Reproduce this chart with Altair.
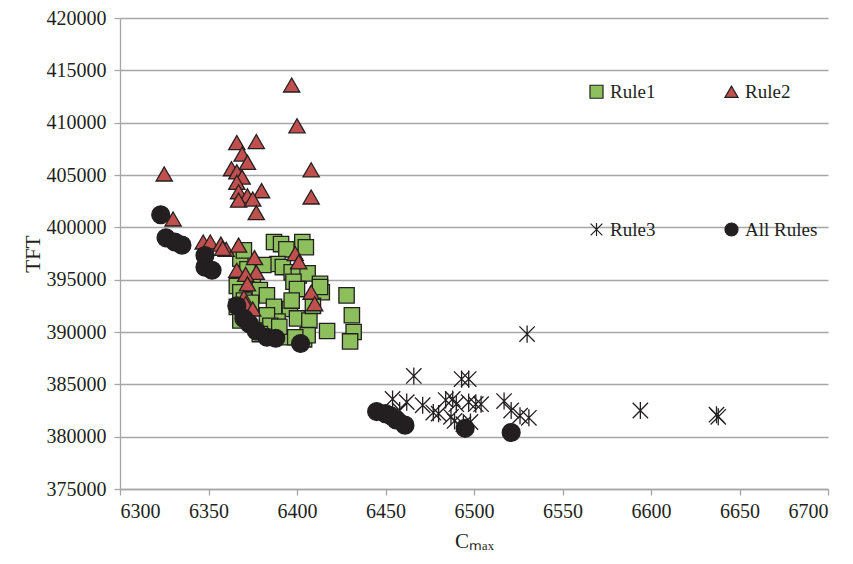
import altair as alt
import pandas as pd

# Rule1 (green squares)
rule1_x = [6387, 6391, 6394, 6403, 6405, 6368, 6370, 6389, 6392, 6381, 6397, 6401,
           6406, 6398, 6400, 6413, 6414, 6413, 6428, 6366, 6368, 6375, 6379, 6383,
           6370, 6374, 6366, 6387, 6396, 6389, 6400, 6407, 6368, 6383, 6385, 6417,
           6431, 6432, 6430, 6379, 6394, 6404, 6406, 6399, 6390, 6397, 6372, 6409]
rule1_y = [398600, 398400, 397900, 398600, 398100, 397000, 397800, 396500, 396200,
           396400, 395700, 395400, 395600, 394800, 394100, 394600, 393800, 394300,
           393500, 394400, 393800, 394600, 394000, 393500, 393000, 392800, 392400,
           392400, 392200, 391000, 391300, 391100, 391100, 391600, 390600, 390100,
           391600, 390000, 389100, 389800, 389500, 389300, 389700, 389500, 390500,
           393000, 396000, 392500]

# Rule2 (red triangles)
rule2_x = [6397, 6400, 6366, 6377, 6369, 6372, 6363, 6366, 6369, 6325, 6408, 6408,
           6366, 6367, 6372, 6380, 6367, 6375, 6377, 6330, 6347, 6351, 6357, 6360,
           6367, 6376, 6399, 6401, 6366, 6377, 6371, 6372, 6370, 6371, 6375, 6408,
           6410, 6358]
rule2_y = [413600, 409700, 408100, 408200, 407000, 406200, 405600, 405300, 404800,
           405100, 405500, 402900, 404300, 403400, 403000, 403500, 402600, 402700,
           401400, 400800, 398600, 398600, 398400, 397900, 398300, 397100, 397500,
           396700, 395900, 395700, 395500, 394600, 393300, 392700, 392200, 393800,
           392700, 398000]

# Rule3 (stars)
rule3_x = [6466, 6493, 6497, 6454, 6462, 6471, 6477, 6480, 6484, 6488, 6490, 6487,
           6489, 6497, 6501, 6504, 6498, 6517, 6521, 6526, 6531, 6458, 6530, 6594,
           6637, 6638, 6494]
rule3_y = [385800, 385500, 385500, 383600, 383300, 383000, 382300, 382200, 383500,
           383600, 383100, 381900, 381500, 383300, 383100, 383100, 381400, 383400,
           382500, 382000, 381800, 382500, 389800, 382500, 382100, 381900, 381200]

# All Rules (black circles)
all_x = [6323, 6326, 6331, 6335, 6348, 6348, 6352, 6366, 6370, 6373, 6377, 6383,
         6388, 6402, 6445, 6450, 6453, 6456, 6461, 6495, 6521]
all_y = [401200, 399000, 398600, 398300, 397300, 396200, 395900, 392500, 391300,
         390800, 390100, 389500, 389400, 388900, 382400, 382200, 382000, 381600,
         381100, 380800, 380400]

series = ["Rule1", "Rule2", "Rule3", "All Rules"]
legend_order = ["Rule1", "Rule3", "Rule2", "All Rules"]  # column-major 2x2 layout
xs = [rule1_x, rule2_x, rule3_x, all_x]
ys = [rule1_y, rule2_y, rule3_y, all_y]

rows = []
for name, xv, yv in zip(series, xs, ys):
    for a, b in zip(xv, yv):
        rows.append({"Cmax": a, "TFT": b, "Series": name, "SizeKey": name + " "})
df = pd.DataFrame(rows)

STAR = "M-0.9,-0.9L0.9,0.9M-0.9,0.9L0.9,-0.9M0,-1L0,1"
FONT = "Liberation Serif"
INK = "#231f20"
GRID = "#a6a6a6"

leg = alt.Legend(title=None, orient="none", legendX=467, legendY=64,
                 columns=2, columnPadding=66, rowPadding=118,
                 values=legend_order,
                 symbolSize=170, labelFontSize=19, labelFont=FONT,
                 labelColor=INK, symbolStrokeWidth=1.2, labelOffset=4)

chart = alt.Chart(df).mark_point(filled=True, strokeWidth=1.3, opacity=1).encode(
    x=alt.X("Cmax:Q",
            scale=alt.Scale(domain=[6300, 6700], nice=False, zero=False),
            axis=alt.Axis(title="Cₘₐₓ", values=list(range(6300, 6701, 50)), grid=False,
                          format="d")),
    y=alt.Y("TFT:Q",
            scale=alt.Scale(domain=[375000, 420000], nice=False, zero=False),
            axis=alt.Axis(title="TFT", values=list(range(375000, 420001, 5000)), grid=True,
                          format="d")),
    fill=alt.Fill("Series:N",
                  scale=alt.Scale(domain=series,
                                  range=["#8dbf5d", "#c0504d", "transparent", INK]),
                  legend=leg),
    stroke=alt.Stroke("Series:N",
                      scale=alt.Scale(domain=series, range=[INK, INK, INK, INK]),
                      legend=leg),
    shape=alt.Shape("Series:N",
                    scale=alt.Scale(domain=series,
                                    range=["square", "triangle-up", STAR, "circle"]),
                    legend=leg),
    size=alt.Size("SizeKey:N",
                  scale=alt.Scale(domain=[s + " " for s in series],
                                  range=[235, 320, 300, 250]),
                  legend=None),
).properties(
    width=708,
    height=471,
    autosize=alt.AutoSizeParams(type="none"),
    padding={"left": 112, "top": 10, "right": 17, "bottom": 66},
).configure_view(
    stroke=None
).configure_axis(
    labelFont=FONT, labelFontSize=20, labelColor=INK,
    titleFont=FONT, titleFontSize=21, titleColor=INK, titleFontWeight="normal",
    domainColor=GRID, tickColor=GRID, gridColor=GRID, gridWidth=1.3,
    domainWidth=1.3, tickWidth=1.3, tickSize=6,
).configure_axisY(
    labelPadding=8, titlePadding=3
).configure_axisX(
    labelPadding=6, titlePadding=9
)

chart.save("out.html", embed_options={"renderer": "svg", "actions": False})
